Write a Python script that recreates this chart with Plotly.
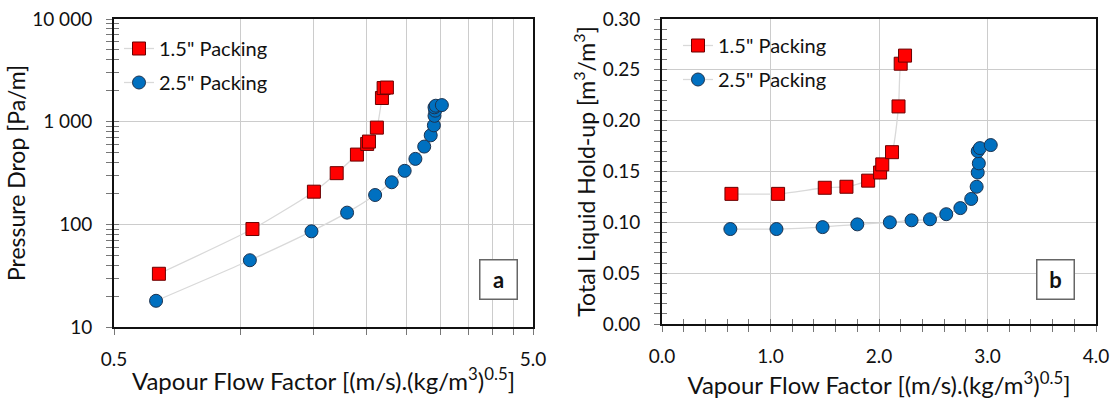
import numpy as np
import plotly.graph_objects as go

# ---------------- data ----------------
ff_15 = [0.64, 1.07, 1.50, 1.70, 1.90, 2.01, 2.03, 2.12, 2.18, 2.20, 2.24]
dp_15 = [33, 90, 208, 315, 478, 607, 640, 875, 1700, 2125, 2150]
hu_15 = [0.128, 0.128, 0.134, 0.135, 0.141, 0.149, 0.157, 0.169, 0.214, 0.256, 0.264]

ff_25 = [0.63, 1.055, 1.48, 1.80, 2.10, 2.30, 2.47, 2.62, 2.75, 2.85, 2.90, 2.91, 2.92, 2.91, 2.93, 3.03]
dp_25 = [18, 44.7, 85.5, 130, 193, 257, 332, 434, 572, 736, 920, 1140, 1280, 1380, 1430, 1450]
hu_25 = [0.0934, 0.0934, 0.0953, 0.098, 0.100, 0.102, 0.103, 0.108, 0.114, 0.123, 0.135, 0.149, 0.158, 0.170, 0.173, 0.176]

name_15 = '1.5" Packing'
name_25 = '2.5" Packing'

xlog_ticks = [0.5, 1.0, 1.5, 2.0, 2.5, 3.0, 3.5, 4.0, 4.5, 5.0]
xlog_text = ["0.5", "", "", "", "", "", "", "", "", "5.0"]
ylog_ticks = [10, 100, 1000, 10000]
ylog_text = ["10", "100", "1 000", "10 000"]
ylog_minor = [m * d for d in (10, 100, 1000) for m in range(2, 10)]

x_title = "Vapour Flow Factor [(m/s).(kg/m<sup>3</sup>)<sup>0.5</sup>]"
y1_title = "Pressure Drop [Pa/m]"
y2_title = "Total Liquid Hold-up [m<sup>3</sup>/m<sup>3</sup>]"

# ---------------- style ----------------
FONT = "Lato"
RED = "#ff0000"
RED_EDGE = "#6b0000"
BLUE = "#0070c0"
BLUE_EDGE = "#1c3350"
LINE = "#d9d9d9"
GRID = "#cccccc"

W, H = 1113, 403
def px_x(p):
    return p / W
def px_y(p):
    return 1 - p / H

fig = go.Figure()

def add_series(x, y, xa, ya, name, color, edge, symbol, legend, show):
    fig.add_trace(go.Scatter(
        x=x, y=y, xaxis=xa, yaxis=ya, name=name, mode="lines+markers",
        line=dict(color=LINE, width=1.3, shape="spline", smoothing=0.6),
        marker=dict(symbol=symbol, size=13, color=color, line=dict(color=edge, width=1)),
        legend=legend, legendgroup=legend + name, showlegend=show))

add_series(ff_15, dp_15, "x", "y", name_15, RED, RED_EDGE, "square", "legend", True)
add_series(ff_25, dp_25, "x", "y", name_25, BLUE, BLUE_EDGE, "circle", "legend", True)
add_series(ff_15, hu_15, "x2", "y2", name_15, RED, RED_EDGE, "square", "legend2", True)
add_series(ff_25, hu_25, "x2", "y2", name_25, BLUE, BLUE_EDGE, "circle", "legend2", True)

# dummy traces to activate overlay axes (for crossing ticks)
fig.add_trace(go.Scatter(x=[None], y=[None], xaxis="x", yaxis="y3", showlegend=False, hoverinfo="skip"))
fig.add_trace(go.Scatter(x=[None], y=[None], xaxis="x4", yaxis="y4", showlegend=False, hoverinfo="skip"))

tickfont = dict(family=FONT, size=19, color="#111")
titlefont = dict(family=FONT, size=23, color="#111")
xtitlefont = dict(family=FONT, size=24, color="#111")

dom_x1 = [px_x(114), px_x(533)]
dom_x2 = [px_x(662), px_x(1096)]
dom_y1 = [px_y(327), px_y(19)]
dom_y2 = [px_y(324), px_y(19)]

common = dict(showline=True, mirror=True, linecolor="#111", linewidth=2, zeroline=False, automargin=False)

fig.update_layout(
    width=W, height=H, margin=dict(l=0, r=0, t=0, b=0, autoexpand=False),
    paper_bgcolor="white", plot_bgcolor="white",
    font=dict(family=FONT, color="#111"),
    xaxis=dict(domain=dom_x1, anchor="y", type="log", range=[np.log10(0.5), np.log10(5.0)],
               tickmode="array", tickvals=xlog_ticks, ticktext=xlog_text,
               ticks="outside", ticklen=6, tickcolor="#777", tickwidth=1,
               showgrid=True, gridcolor=GRID, gridwidth=1, tickfont=tickfont,
               ticklabelstandoff=8,
               title=dict(text=x_title, font=xtitlefont, standoff=4), **common),
    yaxis=dict(domain=dom_y1, anchor="x", type="log", range=[1, 4],
               tickmode="array", tickvals=ylog_ticks, ticktext=ylog_text,
               ticks="outside", ticklen=6, tickcolor="#777", tickwidth=1,
               minor=dict(tickmode="array", tickvals=ylog_minor, ticks="outside", ticklen=6,
                          tickcolor="#777", tickwidth=1, showgrid=False),
               showgrid=True, gridcolor=GRID, gridwidth=1, tickfont=tickfont,
               ticklabelstandoff=10,
               title=dict(text=y1_title, font=titlefont, standoff=0), **common),
    yaxis3=dict(overlaying="y", anchor="x", side="left", type="log", range=[1, 4],
                tickmode="array", tickvals=ylog_ticks + ylog_minor, ticks="inside", ticklen=5,
                tickcolor="#777", tickwidth=1, showticklabels=False, showgrid=False,
                showline=False, zeroline=False, automargin=False),
    xaxis2=dict(domain=dom_x2, anchor="y2", range=[0, 4], tickmode="linear", tick0=0, dtick=1,
                tickformat=".1f", ticks="outside", ticklen=6, tickcolor="#777", tickwidth=1,
                minor=dict(dtick=0.2, ticks="outside", ticklen=6, tickcolor="#777", tickwidth=1, showgrid=False),
                showgrid=True, gridcolor=GRID, gridwidth=1, tickfont=tickfont,
                ticklabelstandoff=8,
                title=dict(text=x_title, font=xtitlefont, standoff=4), **common),
    yaxis2=dict(domain=dom_y2, anchor="x2", range=[0, 0.30], tickmode="linear", tick0=0, dtick=0.05,
                tickformat=".2f", ticks="outside", ticklen=6, tickcolor="#777", tickwidth=1,
                minor=dict(dtick=0.01, ticks="outside", ticklen=6, tickcolor="#777", tickwidth=1, showgrid=False),
                showgrid=True, gridcolor=GRID, gridwidth=1, tickfont=tickfont,
                ticklabelstandoff=10,
                title=dict(text=y2_title, font=titlefont, standoff=1), **common),
    xaxis4=dict(overlaying="x2", anchor="y4", range=[0, 4], tickmode="linear", tick0=0, dtick=0.2,
                ticks="inside", ticklen=5, tickcolor="#777", tickwidth=1, showticklabels=False,
                showgrid=False, showline=False, zeroline=False, automargin=False),
    yaxis4=dict(overlaying="y2", anchor="x4", side="left", range=[0, 0.30], tickmode="linear", tick0=0,
                dtick=0.01, ticks="inside", ticklen=5, tickcolor="#777", tickwidth=1,
                showticklabels=False, showgrid=False, showline=False, zeroline=False, automargin=False),
    legend=dict(x=px_x(119), y=px_y(29), xanchor="left", yanchor="top", bgcolor="rgba(0,0,0,0)",
                font=dict(family=FONT, size=20, color="#111"), tracegroupgap=5, itemwidth=30),
    legend2=dict(x=px_x(678), y=px_y(26), xanchor="left", yanchor="top", bgcolor="rgba(0,0,0,0)",
                 font=dict(family=FONT, size=20, color="#111"), tracegroupgap=5, itemwidth=30),
    showlegend=True,
)

for label, cx in (("a", 498), ("b", 1055)):
    fig.add_annotation(text="<b>%s</b>" % label, xref="paper", yref="paper",
                       x=px_x(cx), y=px_y(279), xanchor="center", yanchor="middle",
                       showarrow=False, font=dict(family=FONT, size=22, color="#111"),
                       bordercolor="#666", borderwidth=1.5, borderpad=2, bgcolor="white",
                       width=32, height=34)

fig.write_html("out.html")
